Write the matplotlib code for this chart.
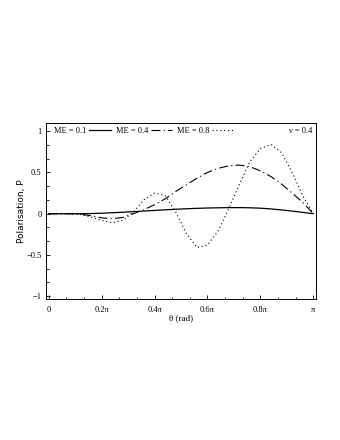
import numpy as np
import matplotlib
matplotlib.use("Agg")
import matplotlib.pyplot as plt
from matplotlib.ticker import MultipleLocator, FixedLocator

# theta in units of pi
theta_frac = [0.00, 0.04, 0.08, 0.12, 0.16, 0.20, 0.24, 0.28, 0.32, 0.36,
              0.40, 0.44, 0.48, 0.52, 0.56, 0.60, 0.64, 0.68, 0.72, 0.76,
              0.80, 0.84, 0.88, 0.92, 0.96, 1.00]

# ME = 0.1 (solid)
p_me01 = [0.000, 0.000, 0.000, 0.000, 0.002, 0.006, 0.012, 0.018, 0.025, 0.032,
          0.040, 0.047, 0.054, 0.060, 0.065, 0.069, 0.072, 0.074, 0.074, 0.072,
          0.067, 0.058, 0.046, 0.032, 0.016, 0.000]

# ME = 0.4 (dash-dot)
p_me04 = [0.000, 0.000, 0.000, -0.005, -0.025, -0.050, -0.060, -0.045, 0.000, 0.050,
          0.110, 0.180, 0.270, 0.350, 0.430, 0.500, 0.550, 0.580, 0.590, 0.570,
          0.520, 0.450, 0.360, 0.250, 0.140, 0.000]

# ME = 0.8 (dotted)
p_me08 = [0.000, 0.000, 0.000, -0.010, -0.040, -0.080, -0.110, -0.080, 0.020, 0.170,
          0.250, 0.220, 0.020, -0.240, -0.410, -0.380, -0.210, 0.060, 0.350, 0.630,
          0.790, 0.840, 0.740, 0.500, 0.220, 0.000]

x_tick_frac = [0.0, 0.2, 0.4, 0.6, 0.8, 1.0]
x_tick_labels = ["0", "0.2π", "0.4π", "0.6π", "0.8π", "π"]
y_ticks = [-1, -0.5, 0, 0.5, 1]
y_tick_labels = ["−1", "−0.5", "0", "0.5", "1"]

serif = "Liberation Serif"

theta = np.array(theta_frac) * np.pi

fig = plt.figure(figsize=(3.4, 4.4), dpi=100)
ax = fig.add_axes([0.135, 0.32, 0.795, 0.40])

ax.plot(theta, p_me01, color="black", linewidth=0.9, label="ME = 0.1")
ax.plot(theta, p_me04, color="black", linewidth=0.8,
        linestyle=(0, (8, 3, 1, 3)), label="ME = 0.4")
ax.plot(theta, p_me08, color="black", linewidth=0.8,
        linestyle=(0, (1, 2.5)), label="ME = 0.8")

ax.set_xlim(-0.011 * np.pi, 1.011 * np.pi)
ax.set_ylim(-1.036, 1.097)

ax.xaxis.set_major_locator(FixedLocator(np.array(x_tick_frac) * np.pi))
ax.set_xticklabels(x_tick_labels, family=serif, fontsize=6)
ax.xaxis.set_minor_locator(MultipleLocator(0.2 * np.pi / 3))
ax.set_yticks(y_ticks)
ax.set_yticklabels(y_tick_labels, family=serif, fontsize=6)
ax.yaxis.set_minor_locator(MultipleLocator(1 / 6))

ax.tick_params(which="both", direction="in", top=False, right=False,
               width=0.6)
ax.tick_params(axis="x", pad=5)
ax.tick_params(axis="y", pad=3)
ax.tick_params(which="major", length=3)
ax.tick_params(which="minor", length=1.8)
for spine in ax.spines.values():
    spine.set_linewidth(0.7)

ax.set_xlabel("θ (rad)", family=serif, fontsize=6.5, labelpad=0)
ax.set_ylabel("Polarisation, P", fontsize=6.5, labelpad=0.5)

ax.legend(loc="upper left", bbox_to_anchor=(0.015, 1.0), ncol=3,
          frameon=False, markerfirst=False,
          prop={"family": serif, "size": 6}, handlelength=2.6,
          handletextpad=0.3, columnspacing=0.6, borderaxespad=0.3,
          borderpad=0.2)

ax.text(0.985, 0.98, "ν = 0.4", transform=ax.transAxes, ha="right",
        va="top", family=serif, fontsize=6)

fig.savefig("out.png", dpi=100)
